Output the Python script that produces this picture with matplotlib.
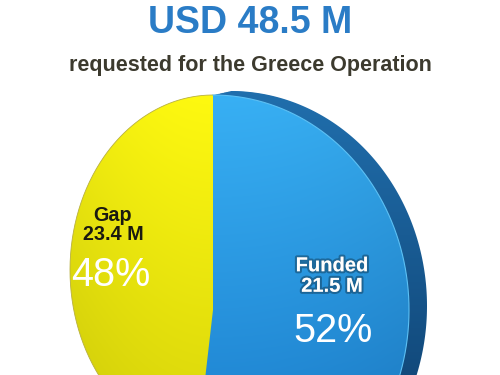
import numpy as np
import matplotlib
matplotlib.use("Agg")
import matplotlib.pyplot as plt
from matplotlib.patches import Polygon
import matplotlib.patheffects as pe

plt.rcParams['font.family'] = ['Liberation Sans', 'DejaVu Sans']

title = "USD 48.5 M"
subtitle = "requested for the Greece Operation"
labels = ["Funded", "Gap"]
amounts = ["21.5 M", "23.4 M"]
percents = [52, 48]

W, H = 500, 375
fig = plt.figure(figsize=(5, 3.75), dpi=100)
ax = fig.add_axes([0, 0, 1, 1])
ax.set_xlim(0, W)
ax.set_ylim(H, 0)
ax.axis('off')

# tilted pie: each half gets its own ellipse (pixel coords, y down)
cx = 213
left = dict(cy=270, rx=143, ry=175)
right = dict(cy=310, rx=196, ry=215)

def wedge(t1, t2, g, dx=0, dy=0, closed=True):
    t = np.radians(np.linspace(t1, t2, 300))
    x, y = np.cos(t), np.sin(t)
    if closed:
        x = np.concatenate([[0], x, [0]])
        y = np.concatenate([[0], y, [0]])
    X = cx + dx + x * g['rx']
    Y = g['cy'] + dy - y * g['ry']
    return np.column_stack([X, Y])

yy, xx = np.mgrid[0:H, 0:W] + 0.5

def grad(top, bot, y0=95, y1=375, side=None):
    top = np.array(top) / 255.0
    bot = np.array(bot) / 255.0
    v = np.clip((yy - y0) / (y1 - y0), 0, 1)[..., None]
    img = top + (bot - top) * v
    if side is not None:
        d = np.clip(np.abs(xx - cx) / side, 0, 1)[..., None]
        img = img * (1 - 0.06 * d ** 2)
    return np.clip(img, 0, 1)

def shaded(pts, img, z):
    poly = Polygon(pts, closed=True, facecolor='none', edgecolor='none', zorder=z)
    ax.add_patch(poly)
    im = ax.imshow(img, extent=(0, W, H, 0), zorder=z, interpolation='bilinear')
    im.set_clip_path(poly)
    return poly

bounds = 90 - 360 * np.cumsum([0] + percents) / 100.0

# extruded side of the funded slice
rim_img = grad((32, 110, 172), (18, 74, 124))
for k in np.linspace(1, 0, 14):
    shaded(wedge(bounds[0], bounds[1], right, 18 * k, -4 * k), rim_img, 1)

# gap slice (yellow); start a little early so no seam shows under the blue face
shaded(wedge(bounds[1] + 15, bounds[2], left), grad((254, 249, 16), (224, 220, 12), side=143), 2)
ax.plot(*wedge(bounds[1] + 15, bounds[2], left, closed=False).T, color='#b8b040',
        lw=0.6, zorder=2.5)

# funded slice face (blue)
shaded(wedge(bounds[0], bounds[1], right), grad((56, 176, 244), (34, 138, 214), side=196), 3)
ax.plot(*wedge(bounds[0], bounds[1], right, closed=False).T, color='#5cc0f4',
        lw=0.8, zorder=3.5)

# titles
ax.text(250, 23, title, ha='center', va='center', fontsize=27, fontweight='bold',
        color='#2a7cc6', zorder=5)
ax.text(250, 65, subtitle, ha='center', va='center', fontsize=15.5, fontweight='bold',
        color='#3c3a2e', zorder=5)

# labels
shadow = [pe.withStroke(linewidth=3, foreground=(0, 0, 0, 0.3))]
ax.text(332, 276, labels[0] + "\n" + amounts[0], ha='center', va='center', fontsize=14.5,
        fontweight='bold', color='white', linespacing=1.1, path_effects=shadow, zorder=6)
ax.text(333, 331, "%d%%" % percents[0], ha='center', va='center', fontsize=28.5,
        color='white', zorder=6)
ax.text(113, 225, labels[1] + "\n" + amounts[1], ha='center', va='center', fontsize=14.2,
        fontweight='bold', color='#1a1a10', linespacing=1.0, zorder=6)
ax.text(111, 275, "%d%%" % percents[1], ha='center', va='center', fontsize=28.5,
        color='white', zorder=6)

fig.savefig("out.png", dpi=100)
